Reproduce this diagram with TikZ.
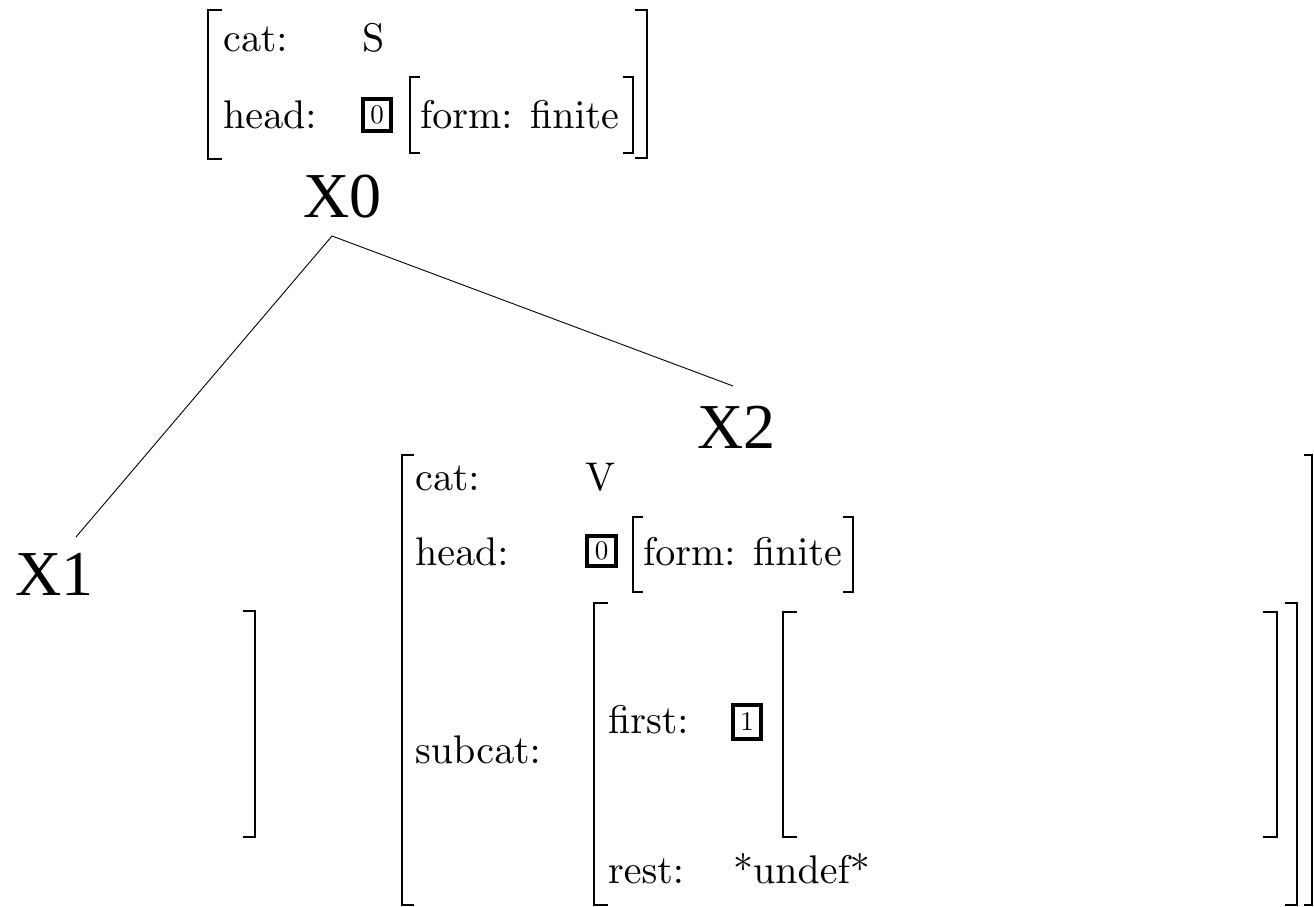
\documentclass[tikz,border=0pt]{standalone}
\usepackage{fontspec}
\newfontfamily\xlab{Liberation Serif}[Scale=1]
\newcommand\treefont{\xlab\fontsize{64pt}{64pt}\selectfont}
\font\avm=cmr10 at 40pt
\font\tagnum=cmr10 at 27pt
\tikzset{
  brk/.style={line width=2pt, line cap=butt, line join=miter},
  tagbox/.style={draw, line width=3.5pt},
  feat/.style={anchor=base west, inner sep=0pt, font=\avm},
  tagdigit/.style={anchor=center, inner sep=0pt, font=\tagnum},
  treelabel/.style={anchor=base west, inner sep=0pt},
  branch/.style={line width=0.9pt}
}
% left / right square brackets: x, top y, bottom y, tick length
\newcommand\avmlbrack[4]{\draw[brk] (#1+#4,#2) -- (#1,#2) -- (#1,#3) -- (#1+#4,#3);}
\newcommand\avmrbrack[4]{\draw[brk] (#1-#4,#2) -- (#1,#2) -- (#1,#3) -- (#1-#4,#3);}
\begin{document}
\begin{tikzpicture}[x=1pt,y=-1pt]
\useasboundingbox (0,0) rectangle (1314,907);

% ---- root feature structure ----
\avmlbrack{208}{10}{159}{14}
\avmrbrack{647}{10}{158}{12}
\node[feat] (rcat) at (223,52) {cat:};
\node[feat] (rcatv) at (362,52) {S};
\node[feat] (rhead) at (223,128) {head:};
\draw[tagbox] (363,99) rectangle (391,131);
\node[tagdigit] (rtag) at (377,115) {0};
\avmlbrack{410}{77}{153}{10}
\avmrbrack{633}{77}{153}{10}
\node[feat] (rform) at (420,128) {form: finite};

% ---- tree ----
\node[treelabel] (X0) at (303,217) {\treefont X0};
\node[treelabel] (X1) at (15,595) {\treefont X1};
\node[treelabel] (X2) at (697,448) {\treefont X2};
\coordinate (x0foot) at (332,236);
\coordinate (x1top) at (76,537);
\coordinate (x2top) at (733,386);
\draw[branch] (x1top) -- (x0foot) -- (x2top);

% ---- X1 feature structure ----
\avmrbrack{255}{611}{837}{12}

% ---- X2 feature structure ----
\avmlbrack{402}{455}{905}{12}
\avmrbrack{1312}{455}{905}{8}
\node[feat] (vcat) at (415,490) {cat:};
\node[feat] (vcatv) at (585,490) {V};
\node[feat] (vhead) at (415,565) {head:};
\draw[tagbox] (587,536) rectangle (616,566);
\node[tagdigit] (vtag) at (601.5,551) {0};
\avmlbrack{633}{517}{592}{10}
\avmrbrack{853}{517}{592}{10}
\node[feat] (vform) at (643,565) {form: finite};
\node[feat] (vsub) at (415,763) {subcat:};
\avmlbrack{594}{603}{905}{14}
\avmrbrack{1297}{603}{905}{12}
\node[feat] (vfirst) at (608,733) {first:};
\draw[tagbox] (733,705) rectangle (761,739);
\node[tagdigit] (vtag1) at (747,722) {1};
\avmlbrack{783}{612}{837}{14}
\avmrbrack{1277}{612}{837}{14}
\node[feat] (vrest) at (608,883) {rest:};
\node[feat] (vundef) at (733,883) {*undef*};
\end{tikzpicture}
\end{document}
